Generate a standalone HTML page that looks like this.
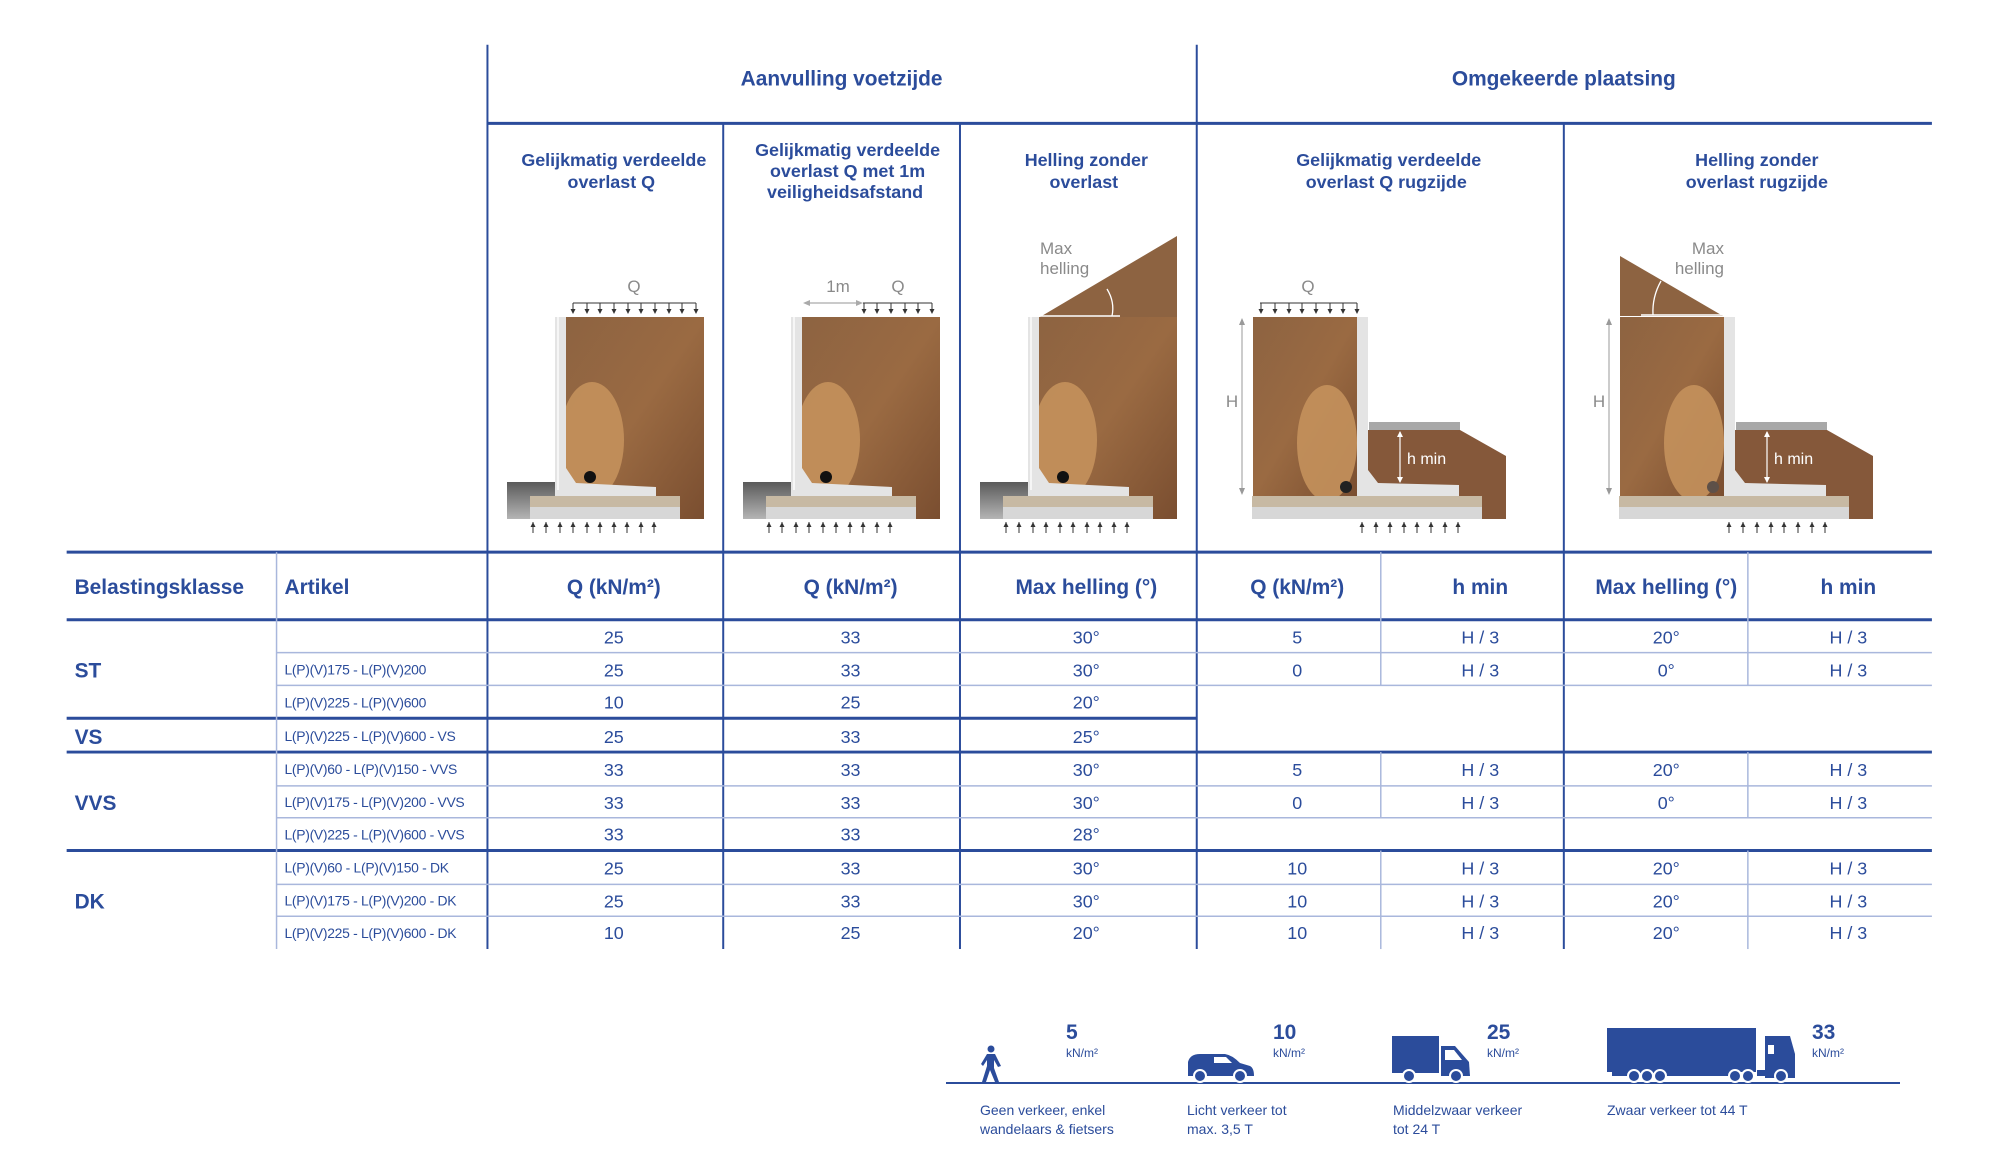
<!DOCTYPE html>
<html><head><meta charset="utf-8"><style>
html,body{margin:0;padding:0;background:#fff;}
svg{display:block;font-family:"Liberation Sans",sans-serif;}
.b{fill:#2b4c9b;}
.h{font-weight:bold;font-size:21px;}
.t{font-weight:bold;font-size:18px;}
.th{font-weight:bold;font-size:21px;}
.d{font-size:18px;}
.a{font-size:14px;letter-spacing:-0.3px;}
.g{fill:#8a8a8a;font-size:17px;}
</style></head><body>
<svg width="2000" height="1166" viewBox="0 0 2000 1166" xmlns="http://www.w3.org/2000/svg">
<defs>
<linearGradient id="soil" x1="0" y1="0" x2="1" y2="1">
<stop offset="0" stop-color="#8d6341"/><stop offset="0.5" stop-color="#9a6a42"/><stop offset="1" stop-color="#7a4e30"/>
</linearGradient>
<linearGradient id="road" x1="0" y1="0" x2="0" y2="1">
<stop offset="0" stop-color="#5a5a5a"/><stop offset="1" stop-color="#b5b5b5"/>
</linearGradient>
<g id="arrDown"><line x1="0" y1="0" x2="0" y2="10" stroke="#333" stroke-width="1"/><path d="M-2.5,6 L0,11 L2.5,6Z" fill="#333"/></g>
<g id="arrUp"><line x1="0" y1="0" x2="0" y2="11" stroke="#333" stroke-width="1"/><path d="M-2.5,5 L0,0 L2.5,5Z" fill="#333"/></g>
<g id="wallA">
<rect x="507" y="482" width="48" height="37" fill="url(#road)"/>
<rect x="566" y="317" width="138" height="202" fill="url(#soil)"/>
<clipPath id="cA"><rect x="566" y="317" width="138" height="202"/></clipPath>
<ellipse cx="592" cy="440" rx="32" ry="58" fill="#c4915c" opacity="0.9" clip-path="url(#cA)"/>
<path d="M555,317 L566,317 L566,468 L576,483 L656,487 L656,496 L555,496Z" fill="#e4e4e4"/>
<line x1="558" y1="317" x2="558" y2="490" stroke="#f6f6f6" stroke-width="2"/>
<rect x="530" y="496" width="150" height="11" fill="#c7b9a3"/>
<rect x="530" y="507" width="150" height="12" fill="#d7d7d7"/>
<circle cx="590" cy="477" r="6" fill="#111"/>
<g>
<use href="#arrUp" x="533" y="522"/><use href="#arrUp" x="546" y="522"/><use href="#arrUp" x="560" y="522"/><use href="#arrUp" x="573" y="522"/><use href="#arrUp" x="587" y="522"/><use href="#arrUp" x="600" y="522"/><use href="#arrUp" x="614" y="522"/><use href="#arrUp" x="627" y="522"/><use href="#arrUp" x="641" y="522"/><use href="#arrUp" x="654" y="522"/>
</g>
</g>
<g id="wallB">
<rect x="1253" y="317" width="104" height="179" fill="url(#soil)"/>
<clipPath id="cB"><rect x="1253" y="317" width="104" height="179"/></clipPath>
<ellipse cx="1327" cy="443" rx="30" ry="58" fill="#c4915c" opacity="0.9" clip-path="url(#cB)"/>
<path d="M1368,430 L1460,430 L1506,456 L1506,519 L1482,519 L1482,496 L1368,496Z" fill="#85583a"/>
<rect x="1369" y="422" width="91" height="8" fill="#a8a8a8"/>
<path d="M1357,317 L1368,317 L1368,470 L1378,483 L1459,485 L1459,496 L1357,496Z" fill="#e4e4e4"/>
<rect x="1252" y="496" width="230" height="11" fill="#c7b9a3"/>
<rect x="1252" y="507" width="230" height="12" fill="#d7d7d7"/>
<line x1="1400" y1="432" x2="1400" y2="482" stroke="#fff" stroke-width="1.2"/>
<path d="M1397,437 L1400,431 L1403,437Z M1397,477 L1400,483 L1403,477Z" fill="#fff"/>
<text x="1407" y="464" fill="#fff" font-size="16">h min</text>
<line x1="1242" y1="319" x2="1242" y2="494" stroke="#999" stroke-width="1"/>
<path d="M1239,325 L1242,318 L1245,325Z M1239,488 L1242,495 L1245,488Z" fill="#999"/>
<text x="1232" y="407" class="g" text-anchor="middle">H</text>
<use href="#arrUp" x="1362" y="522"/><use href="#arrUp" x="1376" y="522"/><use href="#arrUp" x="1390" y="522"/><use href="#arrUp" x="1404" y="522"/><use href="#arrUp" x="1417" y="522"/><use href="#arrUp" x="1431" y="522"/><use href="#arrUp" x="1445" y="522"/><use href="#arrUp" x="1458" y="522"/>
</g>
</defs>

<!-- Drawings (unscaled) -->
<use href="#wallA"/>
<use href="#wallA" x="236"/>
<use href="#wallA" x="473"/>
<path d="M1040,317 L1177,236 L1177,317Z" fill="#8d6341"/>
<line x1="1040" y1="316" x2="1120" y2="316" stroke="#fff" stroke-width="1.5"/>
<path d="M1107,289 Q1115,302 1112,316" fill="none" stroke="#fff" stroke-width="1.3"/>
<text x="1040" y="254" class="g">Max</text><text x="1040" y="274" class="g">helling</text>
<text x="634" y="292" class="g" text-anchor="middle" font-size="18">Q</text>
<line x1="573" y1="303" x2="696" y2="303" stroke="#333" stroke-width="1"/>
<g transform="translate(0,303)"><use href="#arrDown" x="573"/><use href="#arrDown" x="587"/><use href="#arrDown" x="600"/><use href="#arrDown" x="614"/><use href="#arrDown" x="628"/><use href="#arrDown" x="641"/><use href="#arrDown" x="655"/><use href="#arrDown" x="669"/><use href="#arrDown" x="682"/><use href="#arrDown" x="696"/></g>
<text x="898" y="292" class="g" text-anchor="middle" font-size="18">Q</text>
<text x="838" y="292" class="g" text-anchor="middle">1m</text>
<line x1="806" y1="303" x2="860" y2="303" stroke="#aaa" stroke-width="1.2"/>
<path d="M810,300 L803,303 L810,306Z M856,300 L863,303 L856,306Z" fill="#aaa"/>
<line x1="863" y1="303" x2="932" y2="303" stroke="#333" stroke-width="1"/>
<g transform="translate(0,303)"><use href="#arrDown" x="864"/><use href="#arrDown" x="877"/><use href="#arrDown" x="891"/><use href="#arrDown" x="905"/><use href="#arrDown" x="918"/><use href="#arrDown" x="932"/></g>

<use href="#wallB"/>
<use href="#wallB" x="367"/>
<circle cx="1346" cy="487" r="6" fill="#222"/>
<circle cx="1713" cy="487" r="6" fill="#5e5048"/>
<text x="1308" y="292" class="g" text-anchor="middle" font-size="18">Q</text>
<line x1="1260" y1="303" x2="1357" y2="303" stroke="#333" stroke-width="1"/>
<g transform="translate(0,303)"><use href="#arrDown" x="1261"/><use href="#arrDown" x="1275"/><use href="#arrDown" x="1289"/><use href="#arrDown" x="1302"/><use href="#arrDown" x="1316"/><use href="#arrDown" x="1330"/><use href="#arrDown" x="1343"/><use href="#arrDown" x="1357"/></g>
<path d="M1620,256 L1723,316 L1620,316Z" fill="#8d6341"/>
<line x1="1641" y1="315" x2="1723" y2="315" stroke="#fff" stroke-width="1.5"/>
<path d="M1661,281 Q1652,297 1653,315" fill="none" stroke="#fff" stroke-width="1.3"/>
<text x="1724" y="254" class="g" text-anchor="end">Max</text><text x="1724" y="274" class="g" text-anchor="end">helling</text>

<!-- Legend (unscaled) -->
<line x1="946" y1="1083" x2="1900" y2="1083" stroke="#2b4c9b" stroke-width="2"/>
<g class="b">
<text x="1066" y="1039" font-size="21" font-weight="bold">5</text>
<text x="1273" y="1039" font-size="21" font-weight="bold">10</text>
<text x="1487" y="1039" font-size="21" font-weight="bold">25</text>
<text x="1812" y="1039" font-size="21" font-weight="bold">33</text>
<text x="1066" y="1057" font-size="12">kN/m²</text>
<text x="1273" y="1057" font-size="12">kN/m²</text>
<text x="1487" y="1057" font-size="12">kN/m²</text>
<text x="1812" y="1057" font-size="12">kN/m²</text>
<text font-size="14"><tspan x="980" y="1115">Geen verkeer, enkel</tspan><tspan x="980" y="1134">wandelaars &amp; fietsers</tspan></text>
<text font-size="14"><tspan x="1187" y="1115">Licht verkeer tot</tspan><tspan x="1187" y="1134">max. 3,5 T</tspan></text>
<text font-size="14"><tspan x="1393" y="1115">Middelzwaar verkeer</tspan><tspan x="1393" y="1134">tot 24 T</tspan></text>
<text font-size="14"><tspan x="1607" y="1115">Zwaar verkeer tot 44 T</tspan></text>
<circle cx="991" cy="1049" r="3.5"/>
<path d="M987,1054 L995,1054 L1001,1066 L998,1067 L994,1060 L994,1068 L999,1082 L995,1082 L990,1070 L986,1082 L982,1082 L987,1066 L987,1060 L983,1066 L981,1064Z"/>
<path d="M1188,1076 L1188,1062 Q1190,1054 1200,1054 L1225,1054 Q1232,1055 1240,1063 L1250,1066 Q1254,1068 1254,1076Z"/>
<path d="M1214,1057 L1226,1057 L1232,1063 L1214,1063Z" fill="#fff"/>
<circle cx="1200" cy="1076" r="6" stroke="#fff" stroke-width="2"/><circle cx="1240" cy="1076" r="6" stroke="#fff" stroke-width="2"/>
<rect x="1392" y="1036" width="47" height="37"/>
<path d="M1441,1046 L1455,1046 L1469,1062 L1470,1076 L1441,1076Z"/>
<path d="M1445,1050 L1454,1050 L1462,1060 L1445,1060Z" fill="#fff"/>
<circle cx="1409" cy="1076" r="6" stroke="#fff" stroke-width="2"/><circle cx="1456" cy="1076" r="6" stroke="#fff" stroke-width="2"/>
<rect x="1607" y="1028" width="149" height="44"/>
<rect x="1612" y="1072" width="120" height="4"/>
<path d="M1765,1036 L1790,1036 L1795,1054 L1795,1078 L1765,1078Z"/>
<rect x="1768" y="1045" width="6" height="9" fill="#fff"/>
<rect x="1768" y="1064" width="2" height="10"/>
<circle cx="1634" cy="1076" r="6" stroke="#fff" stroke-width="2"/><circle cx="1647" cy="1076" r="6" stroke="#fff" stroke-width="2"/><circle cx="1660" cy="1076" r="6" stroke="#fff" stroke-width="2"/>
<circle cx="1735" cy="1076" r="6" stroke="#fff" stroke-width="2"/><circle cx="1748" cy="1076" r="6" stroke="#fff" stroke-width="2"/><circle cx="1781" cy="1076" r="6" stroke="#fff" stroke-width="2"/>
<rect x="1757" y="1070" width="10" height="6"/>
</g>

<g transform="scale(0.9948)">
<text x="846" y="86" text-anchor="middle" class="b h">Aanvulling voetzijde</text>
<text x="1572" y="86" text-anchor="middle" class="b h">Omgekeerde plaatsing</text>

<text class="b t" text-anchor="middle">
<tspan x="617" y="167">Gelijkmatig verdeelde</tspan><tspan x="617" y="189">overlast Q</tspan>
<tspan x="852" y="157">Gelijkmatig verdeelde</tspan><tspan x="852" y="178">overlast Q met 1m</tspan><tspan x="852" y="199">veiligheidsafstand</tspan>
<tspan x="1092" y="167">Helling zonder</tspan><tspan x="1092" y="189">overlast</tspan>
<tspan x="1396" y="167">Gelijkmatig verdeelde</tspan><tspan x="1396" y="189">overlast Q rugzijde</tspan>
<tspan x="1766" y="167">Helling zonder</tspan><tspan x="1766" y="189">overlast rugzijde</tspan>
</text>

<g stroke="#2b4c9b" stroke-width="2">
<line x1="490" y1="45" x2="490" y2="954"/>
<line x1="1203" y1="45" x2="1203" y2="954"/>
<line x1="727" y1="124" x2="727" y2="954"/>
<line x1="965" y1="124" x2="965" y2="954"/>
<line x1="1572" y1="124" x2="1572" y2="954"/>
</g>
<g stroke="#2b4c9b" stroke-width="3">
<line x1="490" y1="124" x2="1942" y2="124"/>
<line x1="67" y1="555" x2="1942" y2="555"/>
<line x1="67" y1="623" x2="1942" y2="623"/>
<line x1="67" y1="722" x2="1203" y2="722"/>
<line x1="67" y1="756" x2="1942" y2="756"/>
<line x1="67" y1="855" x2="1942" y2="855"/>
</g>
<g stroke="#a9b7dc" stroke-width="1.5">
<line x1="278" y1="555" x2="278" y2="954"/>
<line x1="1388" y1="555" x2="1388" y2="689"/><line x1="1388" y1="756" x2="1388" y2="822"/><line x1="1388" y1="855" x2="1388" y2="954"/>
<line x1="1757" y1="555" x2="1757" y2="689"/><line x1="1757" y1="756" x2="1757" y2="822"/><line x1="1757" y1="855" x2="1757" y2="954"/>
<line x1="278" y1="656" x2="1942" y2="656"/>
<line x1="278" y1="689" x2="1942" y2="689"/>
<line x1="278" y1="790" x2="1942" y2="790"/>
<line x1="278" y1="822" x2="1942" y2="822"/>
<line x1="278" y1="889" x2="1942" y2="889"/>
<line x1="278" y1="921" x2="1942" y2="921"/>
</g>

<g class="b th">
<text x="75" y="597">Belastingsklasse</text>
<text x="286" y="597">Artikel</text>
<text text-anchor="middle" y="597" x="617">Q (kN/m²)</text>
<text text-anchor="middle" y="597" x="855">Q (kN/m²)</text>
<text text-anchor="middle" y="597" x="1092">Max helling (°)</text>
<text text-anchor="middle" y="597" x="1304">Q (kN/m²)</text>
<text text-anchor="middle" y="597" x="1488">h min</text>
<text text-anchor="middle" y="597" x="1675">Max helling (°)</text>
<text text-anchor="middle" y="597" x="1858">h min</text>
</g>
<g class="b th">
<text x="75" y="681">ST</text><text x="75" y="748">VS</text><text x="75" y="814">VVS</text><text x="75" y="913">DK</text>
</g>
<g class="b a">
<text x="286" y="678">L(P)(V)175 - L(P)(V)200</text>
<text x="286" y="711">L(P)(V)225 - L(P)(V)600</text>
<text x="286" y="745">L(P)(V)225 - L(P)(V)600 - VS</text>
<text x="286" y="778">L(P)(V)60 - L(P)(V)150 - VVS</text>
<text x="286" y="811">L(P)(V)175 - L(P)(V)200 - VVS</text>
<text x="286" y="844">L(P)(V)225 - L(P)(V)600 - VVS</text>
<text x="286" y="877">L(P)(V)60 - L(P)(V)150 - DK</text>
<text x="286" y="910">L(P)(V)175 - L(P)(V)200 - DK</text>
<text x="286" y="943">L(P)(V)225 - L(P)(V)600 - DK</text>
</g>
<g class="b d" text-anchor="middle">
<text y="647"><tspan x="617">25</tspan><tspan x="855">33</tspan><tspan x="1092">30°</tspan><tspan x="1304">5</tspan><tspan x="1488">H / 3</tspan><tspan x="1675">20°</tspan><tspan x="1858">H / 3</tspan></text>
<text y="680"><tspan x="617">25</tspan><tspan x="855">33</tspan><tspan x="1092">30°</tspan><tspan x="1304">0</tspan><tspan x="1488">H / 3</tspan><tspan x="1675">0°</tspan><tspan x="1858">H / 3</tspan></text>
<text y="712"><tspan x="617">10</tspan><tspan x="855">25</tspan><tspan x="1092">20°</tspan></text>
<text y="747"><tspan x="617">25</tspan><tspan x="855">33</tspan><tspan x="1092">25°</tspan></text>
<text y="780"><tspan x="617">33</tspan><tspan x="855">33</tspan><tspan x="1092">30°</tspan><tspan x="1304">5</tspan><tspan x="1488">H / 3</tspan><tspan x="1675">20°</tspan><tspan x="1858">H / 3</tspan></text>
<text y="813"><tspan x="617">33</tspan><tspan x="855">33</tspan><tspan x="1092">30°</tspan><tspan x="1304">0</tspan><tspan x="1488">H / 3</tspan><tspan x="1675">0°</tspan><tspan x="1858">H / 3</tspan></text>
<text y="845"><tspan x="617">33</tspan><tspan x="855">33</tspan><tspan x="1092">28°</tspan></text>
<text y="879"><tspan x="617">25</tspan><tspan x="855">33</tspan><tspan x="1092">30°</tspan><tspan x="1304">10</tspan><tspan x="1488">H / 3</tspan><tspan x="1675">20°</tspan><tspan x="1858">H / 3</tspan></text>
<text y="912"><tspan x="617">25</tspan><tspan x="855">33</tspan><tspan x="1092">30°</tspan><tspan x="1304">10</tspan><tspan x="1488">H / 3</tspan><tspan x="1675">20°</tspan><tspan x="1858">H / 3</tspan></text>
<text y="944"><tspan x="617">10</tspan><tspan x="855">25</tspan><tspan x="1092">20°</tspan><tspan x="1304">10</tspan><tspan x="1488">H / 3</tspan><tspan x="1675">20°</tspan><tspan x="1858">H / 3</tspan></text>
</g>
</g>
</svg>
</body></html>
